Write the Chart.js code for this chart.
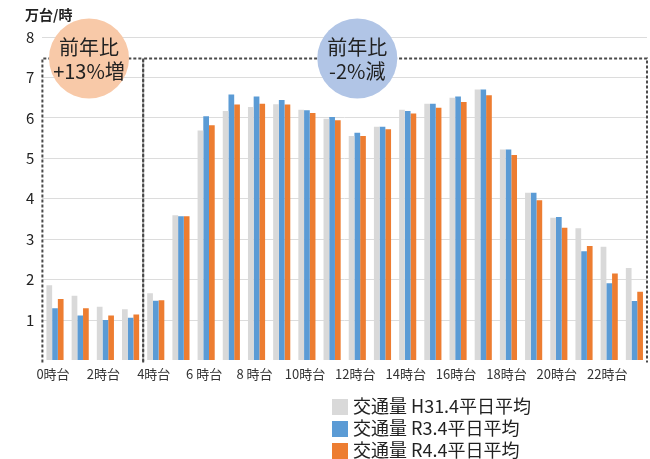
<!DOCTYPE html>
<html>
<head>
<meta charset="utf-8">
<script src="https://cdn.jsdelivr.net/npm/chart.js@4"></script>
<style>
  body { margin: 0; background: #fff; overflow: hidden; }
  #wrap { position: relative; width: 650px; height: 459px; }
  #myChart { display: block; }
  #legend { position: absolute; left: 332px; top: 394px; font-family: "Noto Sans CJK JP", sans-serif; font-size: 18px; color: #222; }
  .row { height: 22px; line-height: 22px; white-space: nowrap; }
  .sw { display: inline-block; width: 16px; height: 16px; vertical-align: -2px; margin-right: 5px; }
</style>
</head>
<body>
<div id="wrap">
  <canvas id="myChart" width="650" height="459"></canvas>
  <div id="legend"></div>
</div>
<script>
/* data */
var hourLabels = ['0時台', '', '2時台', '', '4時台', '', '6 時台', '', '8 時台', '', '10時台', '',
  '12時台', '', '14時台', '', '16時台', '', '18時台', '', '20時台', '', '22時台', ''];
var seriesNames = ['交通量 H31.4平日平均', '交通量 R3.4平日平均', '交通量 R4.4平日平均'];
var h31 = [1.86, 1.60, 1.33, 1.27, 1.66, 3.59, 5.69, 6.17, 6.27, 6.34, 6.20, 5.98,
  5.55, 5.78, 6.20, 6.35, 6.50, 6.70, 5.22, 4.15, 3.53, 3.27, 2.81, 2.29];
var r3 = [1.29, 1.11, 1.00, 1.06, 1.48, 3.57, 6.04, 6.58, 6.53, 6.44, 6.19, 6.02,
  5.63, 5.78, 6.17, 6.35, 6.53, 6.70, 5.22, 4.15, 3.55, 2.70, 1.91, 1.47];
var r4 = [1.52, 1.29, 1.11, 1.14, 1.49, 3.57, 5.82, 6.33, 6.35, 6.33, 6.12, 5.94,
  5.55, 5.72, 6.11, 6.25, 6.39, 6.56, 5.08, 3.96, 3.28, 2.83, 2.15, 1.70];
var yTicks = [1, 2, 3, 4, 5, 6, 7, 8];
var unitLabel = '万台/時';
var groupRanges = [[0, 3], [4, 23]];
var boxTop = 7.47;
var notes = [
  { at: 1.35, lines: ['前年比', '+13%増'], color: '#f8c9a8' },
  { at: 12.0, lines: ['前年比', '-2%減'], color: '#b1c5e6' }
];

var colors = ['#d9d9d9', '#5b9bd5', '#ed7d31'];
var jpFont = '"Noto Sans CJK JP", sans-serif';

// legend
var legendHtml = '';
seriesNames.forEach((name, i) => {
  legendHtml += '<div class="row"><span class="sw" style="background:' + colors[i] + '"></span>' + name + '</div>';
});
document.getElementById('legend').innerHTML = legendHtml;

// dashed boxes, circles, unit label
const notePlugin = {
  id: 'notes',
  afterDatasetsDraw(chart) {
    const c = chart.ctx;
    const x = chart.scales.x;
    const y = chart.scales.y;
    const half = (x.getPixelForValue(1) - x.getPixelForValue(0)) / 2;
    const top = y.getPixelForValue(boxTop);
    const bottom = y.getPixelForValue(0) + 2;
    c.save();
    c.strokeStyle = '#4a4a4a';
    c.lineWidth = 2;
    c.setLineDash([3, 2]);
    groupRanges.forEach((g) => {
      const l = x.getPixelForValue(g[0]) - half;
      const r = x.getPixelForValue(g[1]) + half;
      c.beginPath();
      c.moveTo(l, bottom);
      c.lineTo(l, top);
      c.lineTo(r, top);
      c.lineTo(r, bottom);
      c.stroke();
    });
    c.setLineDash([]);
    notes.forEach((n) => {
      const cx = x.getPixelForValue(0) + n.at * half * 2;
      c.fillStyle = n.color;
      c.beginPath();
      c.arc(cx, top, 40, 0, Math.PI * 2);
      c.fill();
      c.fillStyle = '#222';
      c.font = '20px ' + jpFont;
      c.textAlign = 'center';
      c.textBaseline = 'middle';
      c.fillText(n.lines[0], cx, top - 11);
      c.fillText(n.lines[1], cx, top + 13);
    });
    c.font = 'bold 14px ' + jpFont;
    c.fillStyle = '#222';
    c.textAlign = 'left';
    c.textBaseline = 'middle';
    c.fillText(unitLabel, 25, 15);
    c.restore();
  }
};

const ctx = document.getElementById('myChart');
const myChartBar = new Chart(ctx, {
  type: 'bar',
  data: {
    labels: hourLabels,
    datasets: [h31, r3, r4].map((d, i) => ({
      label: seriesNames[i],
      data: d,
      backgroundColor: colors[i],
      borderWidth: 0,
      barPercentage: 1,
      categoryPercentage: 0.68
    }))
  },
  options: {
    responsive: false,
    animation: false,
    layout: { padding: { top: 37, right: 3, left: 0, bottom: 0 } },
    plugins: {
      legend: { display: false },
      tooltip: { enabled: false }
    },
    scales: {
      x: {
        grid: { display: false, drawTicks: false },
        border: { display: false },
        ticks: {
          autoSkip: false,
          maxRotation: 0,
          padding: 6,
          labelOffset: -2,
          color: '#333',
          font: { family: jpFont, size: 13 }
        },
        afterFit: (scale) => { scale.height = 98.5; }
      },
      y: {
        min: 0,
        max: 8,
        border: { display: false },
        grid: {
          drawTicks: false,
          color: (c) => c.tick && c.tick.value === 0 ? 'rgba(0,0,0,0)' : '#dcdcdc'
        },
        afterBuildTicks: (scale) => {
          scale.ticks = [0].concat(yTicks).map((v) => ({ value: v }));
        },
        ticks: {
          padding: 8,
          color: '#222',
          font: { family: jpFont, size: 15 },
          callback: (v) => v === 0 ? '' : v
        },
        afterFit: (scale) => { scale.width = 42.4; }
      }
    }
  },
  plugins: [notePlugin]
});
</script>
</body>
</html>
